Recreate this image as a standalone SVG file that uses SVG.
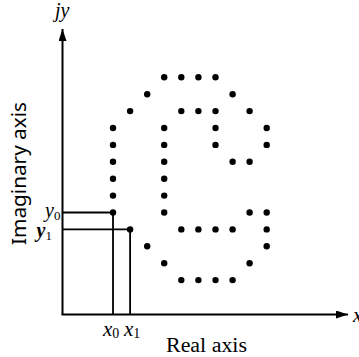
<svg xmlns="http://www.w3.org/2000/svg" width="359" height="357" viewBox="0 0 359 357">
<style>
.ax{stroke:#000;stroke-width:2;fill:none}
.gd{stroke:#000;stroke-width:1.8;fill:none}
.d{fill:#000}
.it{font-family:"Liberation Serif","Times New Roman",serif;font-style:italic;fill:#000}
.lb{font-family:"Liberation Serif","Times New Roman",serif;fill:#000}
.ls{font-family:"Noto Sans","Open Sans",sans-serif;fill:#000}
</style>
<defs>
<marker id="ah" viewBox="0 0 12 8" refX="12" refY="4" markerWidth="12" markerHeight="8" markerUnits="userSpaceOnUse" orient="auto">
<path d="M0,0 L12,4 L0,8 Z" fill="#000"/>
</marker>
</defs>
<rect width="359" height="357" fill="#fff"/>
<g id="connectors">
<line class="ax" x1="62.5" y1="314.5" x2="62.5" y2="29" marker-end="url(#ah)"/>
<line class="ax" x1="61.5" y1="314.5" x2="348" y2="314.5" marker-end="url(#ah)"/>
<polyline class="gd" points="62.5,212.5 113,212.5 113,314.5"/>
<polyline class="gd" points="62.5,229.4 130.1,229.4 130.1,314.5"/>
</g>
<g id="dots">
<circle class="d" cx="164.2" cy="77.3" r="3.2"/><circle class="d" cx="181.3" cy="77.3" r="3.2"/><circle class="d" cx="198.4" cy="77.3" r="3.2"/><circle class="d" cx="215.5" cy="77.3" r="3.2"/>
<circle class="d" cx="147.2" cy="94.2" r="3.2"/><circle class="d" cx="232.6" cy="94.2" r="3.2"/>
<circle class="d" cx="130.1" cy="111.1" r="3.2"/><circle class="d" cx="181.3" cy="111.1" r="3.2"/><circle class="d" cx="198.4" cy="111.1" r="3.2"/><circle class="d" cx="215.5" cy="111.1" r="3.2"/><circle class="d" cx="249.6" cy="111.1" r="3.2"/>
<circle class="d" cx="113" cy="128" r="3.2"/><circle class="d" cx="164.2" cy="128" r="3.2"/><circle class="d" cx="215.5" cy="128" r="3.2"/><circle class="d" cx="266.7" cy="128" r="3.2"/>
<circle class="d" cx="113" cy="144.9" r="3.2"/><circle class="d" cx="164.2" cy="144.9" r="3.2"/><circle class="d" cx="215.5" cy="144.9" r="3.2"/><circle class="d" cx="266.7" cy="144.9" r="3.2"/>
<circle class="d" cx="113" cy="161.8" r="3.2"/><circle class="d" cx="164.2" cy="161.8" r="3.2"/><circle class="d" cx="232.6" cy="161.8" r="3.2"/><circle class="d" cx="249.6" cy="161.8" r="3.2"/>
<circle class="d" cx="113" cy="178.7" r="3.2"/><circle class="d" cx="164.2" cy="178.7" r="3.2"/>
<circle class="d" cx="113" cy="195.6" r="3.2"/><circle class="d" cx="164.2" cy="195.6" r="3.2"/>
<circle class="d" cx="113" cy="212.5" r="3.2"/><circle class="d" cx="164.2" cy="212.5" r="3.2"/><circle class="d" cx="249.6" cy="212.5" r="3.2"/><circle class="d" cx="266.7" cy="212.5" r="3.2"/>
<circle class="d" cx="130.1" cy="229.4" r="3.2"/><circle class="d" cx="181.3" cy="229.4" r="3.2"/><circle class="d" cx="198.4" cy="229.4" r="3.2"/><circle class="d" cx="215.5" cy="229.4" r="3.2"/><circle class="d" cx="232.6" cy="229.4" r="3.2"/><circle class="d" cx="266.7" cy="229.4" r="3.2"/>
<circle class="d" cx="147.2" cy="246.3" r="3.2"/><circle class="d" cx="266.7" cy="246.3" r="3.2"/>
<circle class="d" cx="164.2" cy="263.2" r="3.2"/><circle class="d" cx="249.6" cy="263.2" r="3.2"/>
<circle class="d" cx="181.3" cy="280.1" r="3.2"/><circle class="d" cx="198.4" cy="280.1" r="3.2"/><circle class="d" cx="215.5" cy="280.1" r="3.2"/><circle class="d" cx="232.6" cy="280.1" r="3.2"/>
</g>
<g id="labels">
<text class="it" x="55" y="17" font-size="20">jy</text>
<text class="it" x="353" y="322" font-size="21">x</text>
<text class="it" x="45" y="216.5" font-size="20">y<tspan font-size="13" font-style="normal" dy="3">0</tspan></text>
<text class="it" x="36.5" y="237" font-size="20" font-weight="bold">y<tspan font-size="13" font-style="normal" font-weight="normal" dy="3">1</tspan></text>
<text class="it" x="103" y="336" font-size="21">x<tspan font-size="14" font-style="normal" dy="2">0</tspan></text>
<text class="it" x="124" y="336" font-size="21">x<tspan font-size="14" font-style="normal" dy="2">1</tspan></text>
<text class="lb" x="166" y="352" font-size="20" textLength="81" lengthAdjust="spacingAndGlyphs">Real axis</text>
<text class="ls" transform="translate(25.5,245) rotate(-90)" font-size="19" textLength="143" lengthAdjust="spacingAndGlyphs">Imaginary axis</text>
</g>
</svg>
